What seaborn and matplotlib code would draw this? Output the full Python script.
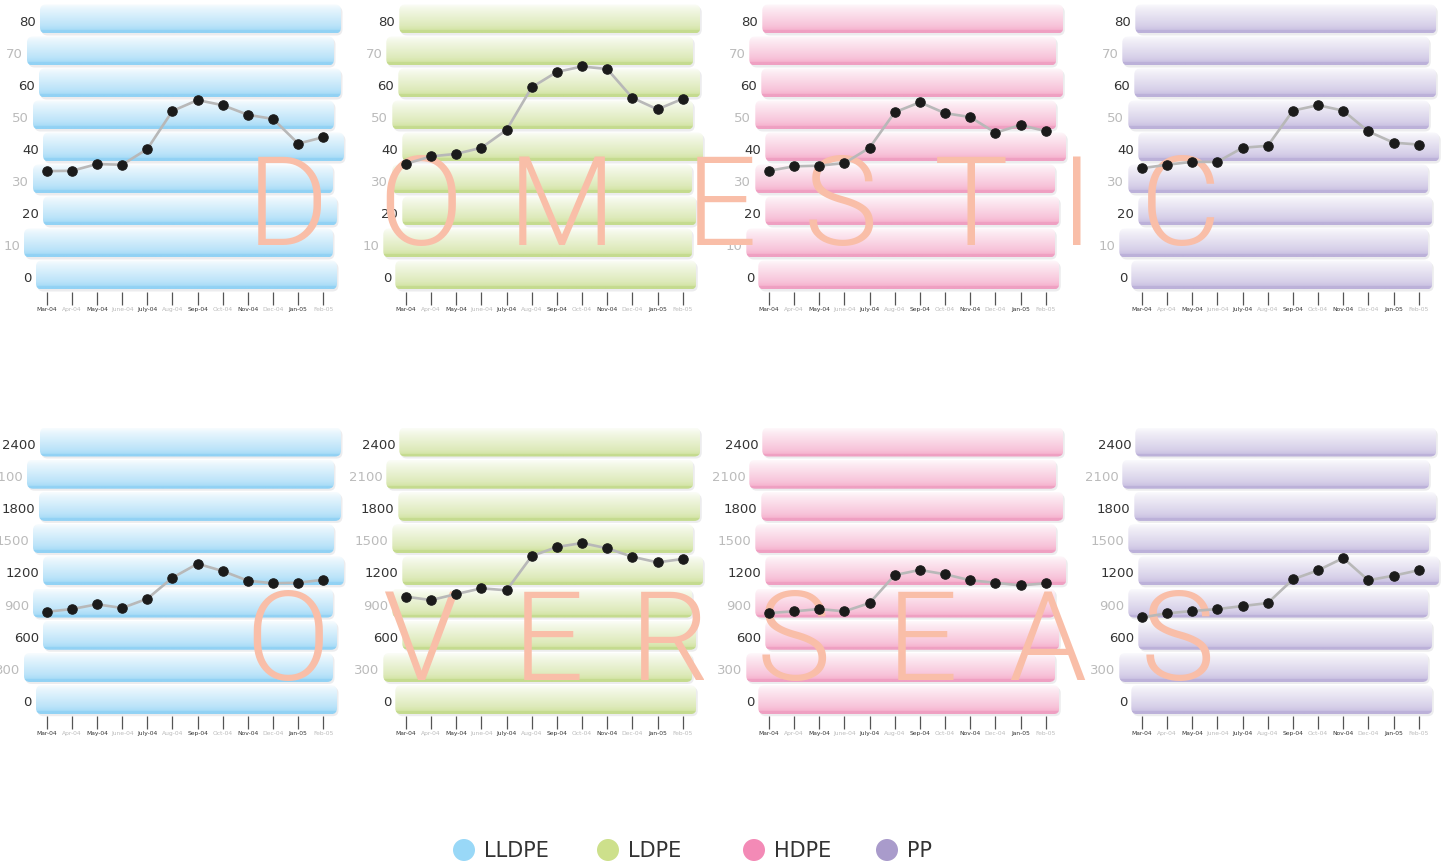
import numpy as np
import pandas as pd
import matplotlib
matplotlib.use("Agg")
import matplotlib.pyplot as plt
import seaborn as sns
from matplotlib.patches import FancyBboxPatch, Ellipse
from matplotlib.colors import to_rgb

# ---------------- data ----------------
months = ["Mar-04", "Apr-04", "May-04", "June-04", "July-04", "Aug-04",
          "Sep-04", "Oct-04", "Nov-04", "Dec-04", "Jan-05", "Feb-05"]
products = ["LLDPE", "LDPE", "HDPE", "PP"]

domestic_lldpe = [33.4, 33.5, 35.6, 35.4, 40.3, 52.2, 55.6, 54.0, 51.0, 49.7, 42.0, 44.0]
domestic_ldpe = [35.7, 38.0, 38.8, 40.7, 46.3, 59.6, 64.4, 66.1, 65.3, 56.3, 52.7, 56.0]
domestic_hdpe = [33.5, 34.9, 35.1, 35.9, 40.7, 51.8, 54.9, 51.5, 50.3, 45.4, 47.8, 45.9]
domestic_pp = [34.3, 35.4, 36.3, 36.3, 40.7, 41.3, 52.3, 54.0, 52.3, 45.8, 42.3, 41.7]

overseas_lldpe = [847, 872, 916, 882, 968, 1164, 1294, 1226, 1136, 1112, 1117, 1145]
overseas_ldpe = [987, 956, 1012, 1065, 1047, 1366, 1450, 1487, 1438, 1359, 1307, 1338]
overseas_hdpe = [835, 851, 872, 851, 928, 1189, 1236, 1196, 1140, 1117, 1093, 1112]
overseas_pp = [795, 832, 854, 872, 900, 928, 1149, 1233, 1347, 1140, 1183, 1233]

domestic_ticks = [80, 70, 60, 50, 40, 30, 20, 10, 0]
overseas_ticks = [2400, 2100, 1800, 1500, 1200, 900, 600, 300, 0]

watermark_top = "DOMESTIC"
watermark_bottom = "OVERSEAS"

# ---------------- style ----------------
W, H = 1447, 866
sns.set_style("white")
plt.rcParams["font.family"] = ["DejaVu Sans"]

legend_colors = ["#99d8f7", "#cde08b", "#f38ab6", "#a99bcb"]
band_base = ["#a4daf7", "#d2e3a3", "#f5b0cd", "#c9c0e1"]
band_edge = ["#92d2f4", "#c5db8f", "#efa0c2", "#bcb1d9"]
salmon = "#f9bea8"

mar_px = [46.7, 406.0, 769.0, 1142.0]
step_px = 25.15
# band horizontal extents relative to first month position (pixels)
band_left = [-6.7, -19.7, -7.7, -13.7, -3.7, -13.7, -3.7, -22.7, -10.7]
band_right = [294.3, 287.3, 294.3, 287.3, 297.3, 286.3, 290.3, 286.3, 290.3]

fig = plt.figure(figsize=(W / 100, H / 100), dpi=100)
fig.patch.set_facecolor("white")

bg = fig.add_axes([0, 0, 1, 1], zorder=0)
bg.set_axis_off()


def gradient(base, edge, n=64):
    b = np.array(to_rgb(base))
    e = np.array(to_rgb(edge))
    w = np.ones(3)
    t = np.linspace(0, 1, n)
    stops_t = [0.0, 0.15, 0.45, 0.75, 0.87, 1.0]
    stops_f = [0.08, 0.25, 0.5, 0.75, 0.92, 1.0]
    f = np.interp(t, stops_t, stops_f)
    rows = []
    for ti, fi in zip(t, f):
        if ti > 0.89:
            rows.append(e)
        else:
            rows.append(w * (1 - fi) + b * fi)
    return np.array(rows).reshape(n, 1, 3)


def draw_band(x0, x1, yc, h, base, edge):
    y0 = yc - h / 2
    sh = FancyBboxPatch((x0 + 1.5, y0 - 2.0), x1 - x0, h,
                        boxstyle="round,pad=0,rounding_size=6",
                        fc=(0.3, 0.3, 0.35, 0.10), ec="none", zorder=1)
    bg.add_patch(sh)
    clip = FancyBboxPatch((x0, y0), x1 - x0, h,
                          boxstyle="round,pad=0,rounding_size=6",
                          fc="none", ec="none", zorder=2)
    bg.add_patch(clip)
    im = bg.imshow(gradient(base, edge), extent=[x0, x1, y0, y0 + h],
                   origin="upper", aspect="auto", zorder=2,
                   interpolation="bilinear")
    im.set_clip_path(clip)


rows = [
    dict(series=[domestic_lldpe, domestic_ldpe, domestic_hdpe, domestic_pp],
         ticks=domestic_ticks, zero_ref=278.0, ppu=3.2, top_ref=4, bot_ref=292),
    dict(series=[overseas_lldpe, overseas_ldpe, overseas_hdpe, overseas_pp],
         ticks=overseas_ticks, zero_ref=702.7, ppu=257.7 / 2400, top_ref=428, bot_ref=716),
]

for r in rows:
    for i, prod in enumerate(products):
        mx = mar_px[i]
        x_left, x_right = mx - 27, mx + 302
        ax = fig.add_axes([x_left / W, (H - r["bot_ref"]) / H,
                           (x_right - x_left) / W, (r["bot_ref"] - r["top_ref"]) / H],
                          zorder=3)
        ax.patch.set_alpha(0)
        ax.set_xlim((x_left - mx) / step_px, (x_right - mx) / step_px)
        ax.set_ylim((r["zero_ref"] - r["bot_ref"]) / r["ppu"],
                    (r["zero_ref"] - r["top_ref"]) / r["ppu"])

        df = pd.DataFrame({"idx": np.arange(len(months)), "value": r["series"][i]})
        sns.lineplot(data=df, x="idx", y="value", ax=ax, color="#b8b8b8",
                     linewidth=1.9, marker="o", markersize=6.8,
                     markerfacecolor="#1b1b1b", markeredgecolor="#1b1b1b")
        for sp in ax.spines.values():
            sp.set_visible(False)
        ax.set_xlabel("")
        ax.set_ylabel("")
        ax.set_yticks([])
        ax.set_xticks(np.arange(len(months)))
        ax.set_xticklabels(months)
        ax.tick_params(axis="x", direction="out", length=9, width=0.9,
                       color="#555555", labelsize=4.3, pad=1.5, bottom=True)
        for k, lab in enumerate(ax.get_xticklabels()):
            lab.set_color("#333333" if k % 2 == 0 else "#bbbbbb")

        # bands and y labels
        for j, v in enumerate(r["ticks"]):
            ypx = ax.transData.transform((0, v))[1]
            draw_band(mx + band_left[j], mx + band_right[j], ypx + 3, 29,
                      band_base[i], band_edge[i])
            bg.text(mx + band_left[j] - 4, ypx, f"{v}", ha="right", va="center",
                    fontsize=9.5, color="#333333" if j % 2 == 0 else "#bbbbbb",
                    zorder=4)

# watermark letters
wm_family = ["Roboto", "Lato", "DejaVu Sans"]
top_centers = [288, 421, 562, 721, 841, 971, 1077, 1181]
bot_centers = [288, 421, 548, 670, 794, 922, 1047, 1178]
for ch, cx in zip(watermark_top, top_centers):
    fig.text(cx / W, 1 - 245 / H, ch, ha="center", va="baseline", fontsize=90,
             fontweight=300, color=salmon, family=wm_family, zorder=2)
for ch, cx in zip(watermark_bottom, bot_centers):
    fig.text(cx / W, 1 - 680 / H, ch, ha="center", va="baseline", fontsize=90,
             fontweight=300, color=salmon, family=wm_family, zorder=2)

# legend
leg_circle_x = [464, 608, 754, 887]
for name, col, cx in zip(products, legend_colors, leg_circle_x):
    bg.add_patch(Ellipse((cx, H - 850), 22, 22, fc=col, ec="none", zorder=3))
    bg.text(cx + 20, H - 851, name, ha="left", va="center", fontsize=15,
            color="#333333", zorder=3)

bg.set_xlim(0, W)
bg.set_ylim(0, H)

fig.savefig("out.png", dpi=100, facecolor="white")
